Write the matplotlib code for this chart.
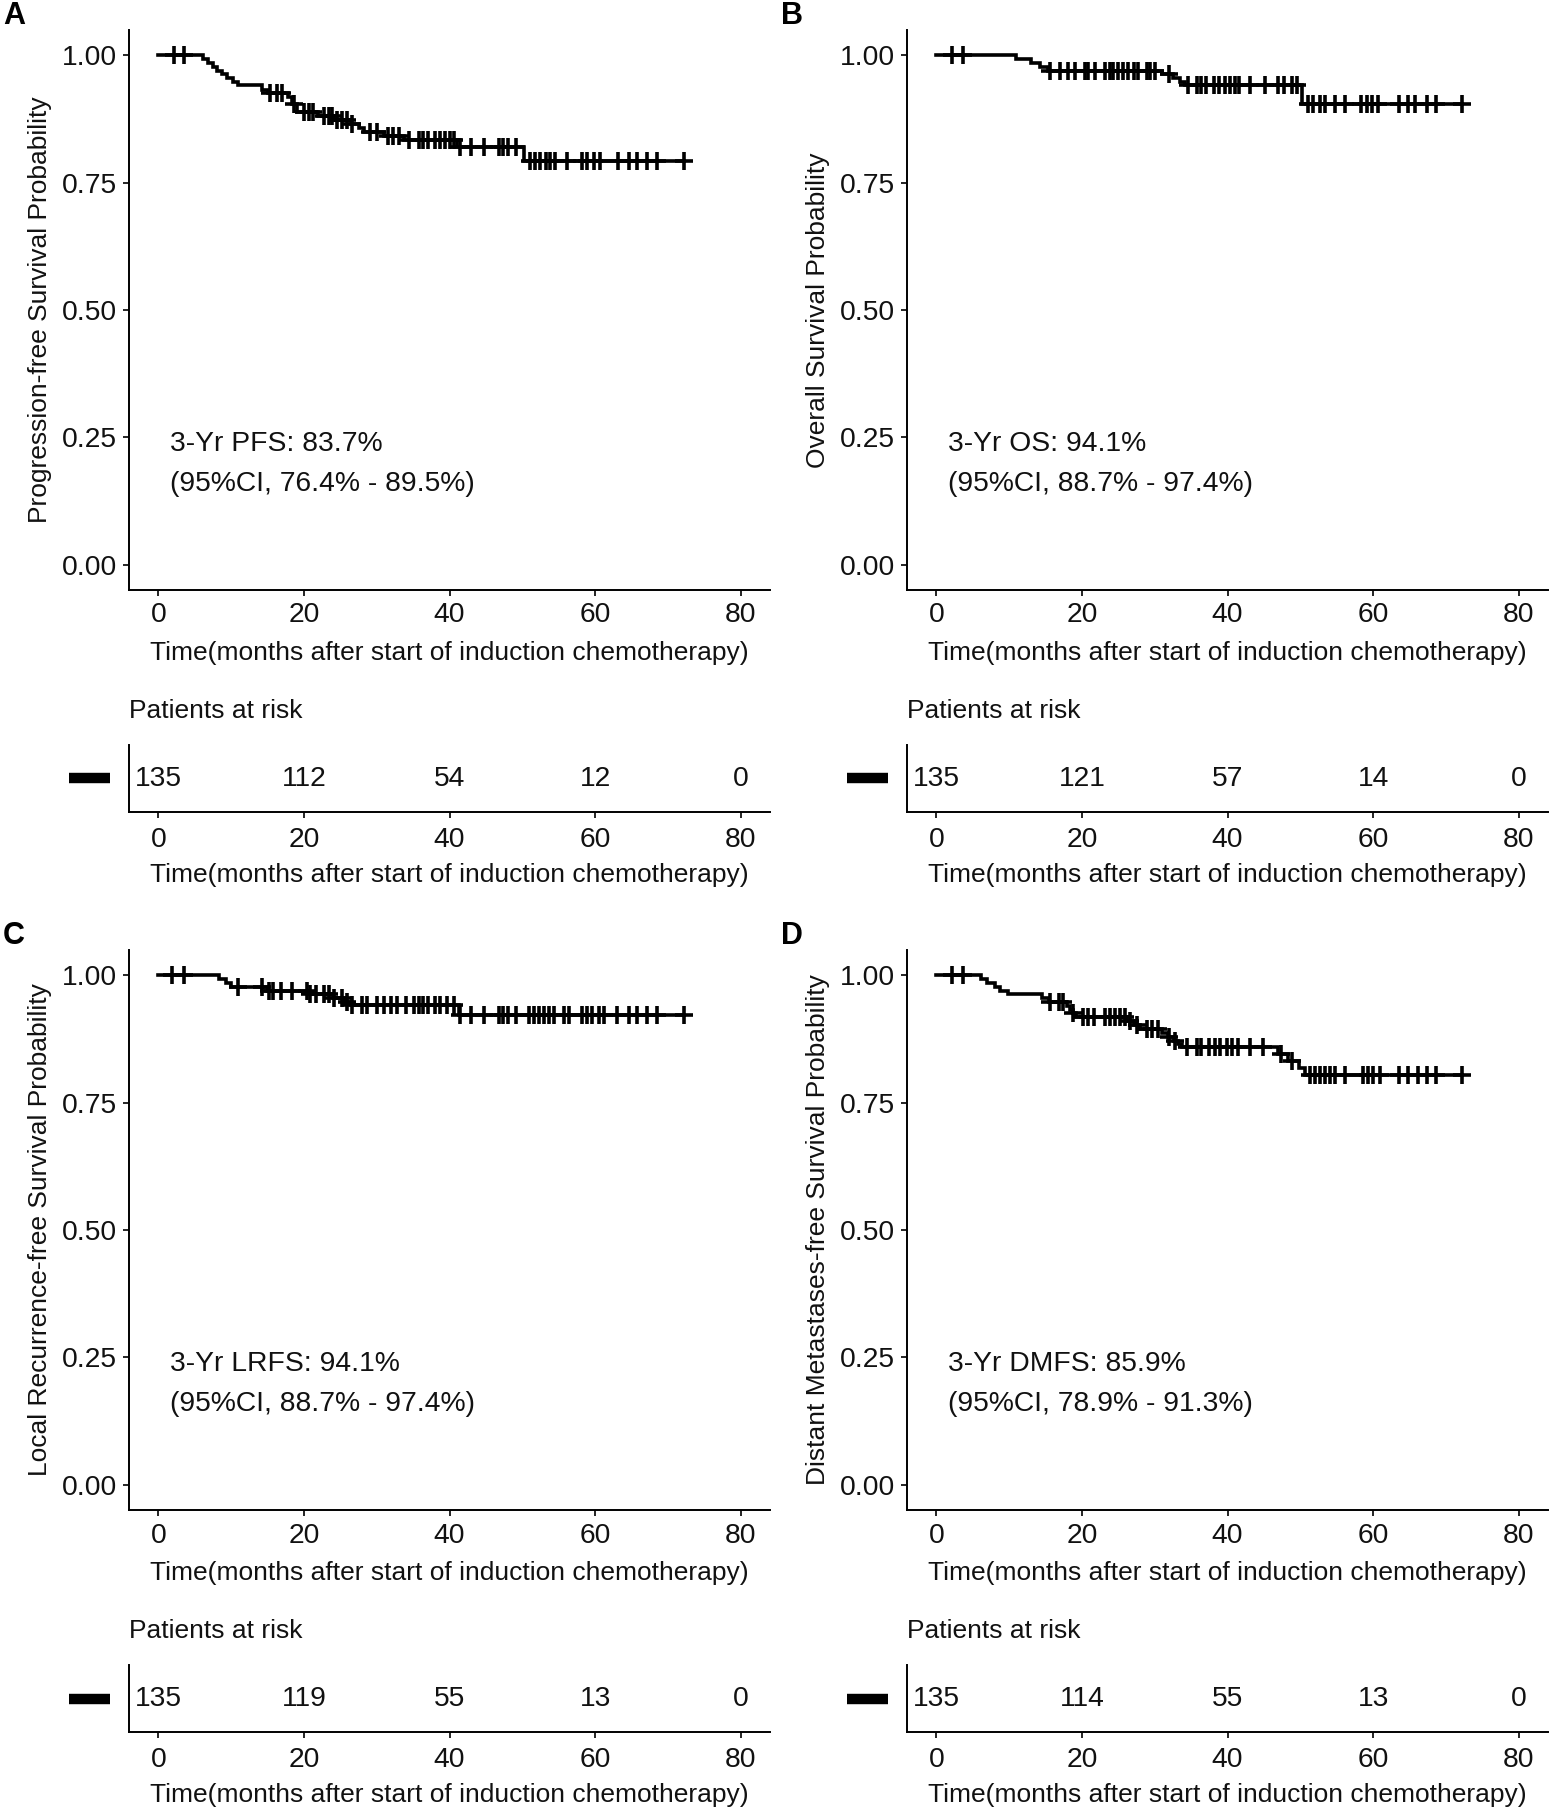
import numpy as np
import matplotlib
matplotlib.use('Agg')
import matplotlib.pyplot as plt

plt.rcParams['font.family'] = ['Liberation Sans', 'DejaVu Sans']

# ---------------- data ----------------
risk_times = [0, 20, 40, 60, 80]
x_ticks = [0, 20, 40, 60, 80]
y_ticks = [0.0, 0.25, 0.50, 0.75, 1.00]
y_tick_labels = ['0.00', '0.25', '0.50', '0.75', '1.00']

pfs_time = [0, 6.2, 6.8, 7.5, 8.1, 8.7, 9.4, 10.2, 11.0, 14.3, 15.0, 17.8, 18.3, 19.0,
            22.0, 24.0, 26.5, 27.5, 28.2, 31.0, 33.7, 41.0, 50.2]
pfs_surv = [1.0, 0.993, 0.985, 0.978, 0.970, 0.963, 0.956, 0.948, 0.941, 0.933, 0.926,
            0.918, 0.904, 0.889, 0.881, 0.873, 0.866, 0.858, 0.850, 0.842, 0.834, 0.821, 0.792]
pfs_cens = [2.1, 3.5, 15.4, 16.3, 17.0, 18.6, 20.0, 20.7, 21.3, 22.7, 23.4, 23.9, 24.5,
            25.2, 25.9, 26.6, 29.1, 30.0, 31.6, 32.3, 33.0, 34.4, 35.8, 36.4, 37.1, 38.0,
            38.7, 39.4, 40.1, 40.6, 41.5, 42.9, 44.7, 46.8, 47.4, 48.1, 49.1, 51.1, 51.8,
            52.5, 53.2, 53.8, 54.5, 56.1, 58.2, 58.9, 59.8, 60.7, 63.2, 64.6, 65.8, 67.1,
            68.5, 72.2]
pfs_risk = [135, 112, 54, 12, 0]

os_time = [0, 11.0, 13.0, 14.2, 15.3, 31.0, 32.5, 33.5, 34.2, 50.2]
os_surv = [1.0, 0.993, 0.985, 0.978, 0.970, 0.963, 0.955, 0.948, 0.941, 0.905]
os_cens = [2.1, 3.7, 15.6, 17.0, 18.1, 19.0, 20.4, 20.9, 21.8, 23.2, 23.9, 24.3, 25.0,
           25.7, 26.4, 27.1, 27.7, 28.9, 29.3, 30.0, 31.9, 34.6, 35.8, 36.4, 37.1, 38.1,
           38.9, 39.6, 40.3, 41.0, 41.6, 43.1, 45.1, 46.9, 47.7, 48.8, 49.5, 51.1, 51.8,
           52.7, 53.4, 54.8, 56.1, 58.4, 59.1, 59.8, 60.7, 63.5, 64.8, 65.8, 67.4, 68.7,
           72.2]
os_risk = [135, 121, 57, 14, 0]

lrfs_time = [0, 8.3, 9.3, 10.0, 15.0, 20.5, 24.0, 25.5, 26.5, 41.3]
lrfs_surv = [1.0, 0.993, 0.985, 0.978, 0.970, 0.963, 0.955, 0.948, 0.941, 0.923]
lrfs_cens = [1.9, 3.5, 11.0, 14.2, 15.2, 15.8, 16.8, 18.4, 20.4, 20.9, 21.6, 22.7, 23.4,
             24.1, 25.2, 25.9, 26.6, 28.0, 28.7, 30.0, 31.0, 31.9, 32.8, 34.0, 35.1, 35.8,
             36.4, 37.1, 38.0, 38.7, 39.6, 40.6, 41.5, 42.9, 44.7, 46.8, 47.4, 48.1, 49.1,
             50.9, 51.6, 52.3, 53.0, 53.6, 54.3, 55.7, 56.4, 58.2, 58.9, 59.6, 60.5, 61.2,
             63.0, 64.6, 65.8, 67.1, 68.5, 72.2]
lrfs_risk = [135, 119, 55, 13, 0]

dmfs_time = [0, 6.2, 6.9, 8.1, 8.8, 9.8, 14.5, 15.5, 18.0, 18.4, 18.8, 19.2, 26.0, 27.2,
             28.0, 31.0, 31.8, 32.6, 33.2, 33.8, 46.9, 48.3, 49.8, 50.6]
dmfs_surv = [1.0, 0.993, 0.985, 0.978, 0.970, 0.963, 0.955, 0.948, 0.940, 0.933, 0.926,
             0.918, 0.910, 0.902, 0.894, 0.886, 0.879, 0.872, 0.866, 0.859, 0.845, 0.832,
             0.818, 0.805]
dmfs_cens = [2.1, 3.7, 15.6, 16.8, 17.4, 18.8, 20.2, 20.9, 21.6, 23.2, 23.9, 24.5, 25.2,
             25.9, 26.6, 27.5, 28.9, 29.6, 30.5, 31.9, 32.8, 34.4, 35.8, 36.4, 37.4, 38.3,
             39.0, 39.9, 40.6, 41.5, 43.1, 44.9, 47.4, 48.8, 51.3, 52.0, 52.7, 53.4, 54.1,
             54.8, 56.1, 58.6, 59.3, 60.0, 60.9, 63.5, 64.8, 66.2, 67.4, 68.7, 72.2]
dmfs_risk = [135, 114, 55, 13, 0]

panel_letters = ['A', 'B', 'C', 'D']
y_labels = ['Progression-free Survival Probability',
            'Overall Survival Probability',
            'Local Recurrence-free Survival Probability',
            'Distant Metastases-free Survival Probability']
annot_line1 = ['3-Yr PFS: 83.7%', '3-Yr OS: 94.1%', '3-Yr LRFS: 94.1%', '3-Yr DMFS: 85.9%']
annot_line2 = ['(95%CI, 76.4% - 89.5%)', '(95%CI, 88.7% - 97.4%)',
               '(95%CI, 88.7% - 97.4%)', '(95%CI, 78.9% - 91.3%)']
x_label = 'Time(months after start of induction chemotherapy)'
risk_title = 'Patients at risk'

# ---------------- layout ----------------
W, H = 1560, 1810
fig = plt.figure(figsize=(W / 100, H / 100), dpi=100)
FS = 19
FS_T = 20.3
TXT = '#111111'


def px_axes(left, top, width, height):
    return fig.add_axes([left / W, 1 - (top + height) / H, width / W, height / H])


AX_L, AX_T, AX_W, AX_H = 129.2, 30.0, 640.6, 560.0
RK_T, RK_H = 745.0, 67.0
offsets = [(0, 0), (778, 0), (0, 920), (778, 920)]

datasets = [
    (pfs_time, pfs_surv, pfs_cens, pfs_risk),
    (os_time, os_surv, os_cens, os_risk),
    (lrfs_time, lrfs_surv, lrfs_cens, lrfs_risk),
    (dmfs_time, dmfs_surv, dmfs_cens, dmfs_risk),
]

for i, (t, s, c, r) in enumerate(datasets):
    dx, dy = offsets[i]
    ax = px_axes(AX_L + dx, AX_T + dy, AX_W, AX_H)
    t_arr = np.array(t)
    s_arr = np.array(s)
    c_arr = np.array(c)
    t_end = max(c_arr.max(), t_arr.max())
    tt = np.append(t_arr, t_end)
    ss = np.append(s_arr, s_arr[-1])
    ax.step(tt, ss, where='post', color='black', lw=2.6, solid_joinstyle='miter')
    idx = np.searchsorted(t_arr, c_arr, side='right') - 1
    ax.plot(c_arr, s_arr[idx], ls='none', marker='+', ms=13, mew=2.6, color='black')

    ax.set_xlim(-4, 84)
    ax.set_ylim(-0.05, 1.05)
    ax.set_xticks(x_ticks)
    ax.set_yticks(y_ticks)
    ax.set_yticklabels(y_tick_labels)
    for sp in ['top', 'right']:
        ax.spines[sp].set_visible(False)
    for sp in ['left', 'bottom']:
        ax.spines[sp].set_linewidth(1.4)
    ax.tick_params(axis='both', labelsize=FS_T, length=4, width=1.2, colors='black',
                   labelcolor=TXT, pad=5)
    ax.text(-89 / AX_W, 0.5, y_labels[i], transform=ax.transAxes, rotation=90,
            ha='center', va='center', fontsize=FS, color=TXT)
    ax.text(0.5, -63 / AX_H, x_label, transform=ax.transAxes, ha='center', va='center',
            fontsize=FS, color=TXT)
    ax.text(1.6, 0.237, annot_line1[i], ha='left', va='center', fontsize=FS_T, color=TXT)
    ax.text(1.6, 0.159, annot_line2[i], ha='left', va='center', fontsize=FS_T, color=TXT)

    # risk table
    rk = px_axes(AX_L + dx, RK_T + dy, AX_W, RK_H)
    rk.set_xlim(-4, 84)
    rk.set_ylim(0, 1)
    rk.set_xticks(x_ticks)
    rk.set_yticks([])
    for sp in ['top', 'right']:
        rk.spines[sp].set_visible(False)
    for sp in ['left', 'bottom']:
        rk.spines[sp].set_linewidth(1.4)
    rk.tick_params(axis='x', labelsize=FS_T, length=4, width=1.2, colors='black',
                   labelcolor=TXT, pad=7)
    for xt, n in zip(risk_times, r):
        rk.text(xt, 0.5, str(n), ha='center', va='center', fontsize=FS_T, color=TXT)
    rk.plot([-60 / AX_W, -19 / AX_W], [0.5, 0.5], transform=rk.get_yaxis_transform(),
            color='black', lw=7.5, solid_capstyle='butt', clip_on=False)
    rk.text(0.0, 1 + 34 / RK_H, risk_title, transform=rk.transAxes, ha='left',
            va='center', fontsize=FS, color=TXT)
    rk.text(0.5, -63 / RK_H, x_label, transform=rk.transAxes, ha='center', va='center',
            fontsize=FS, color=TXT)

    fig.text((3 + dx) / W, 1 - (1 + dy) / H, panel_letters[i], ha='left', va='top',
             fontsize=22, fontweight='bold', color='black')

fig.savefig('out.png', dpi=100, facecolor='white')
